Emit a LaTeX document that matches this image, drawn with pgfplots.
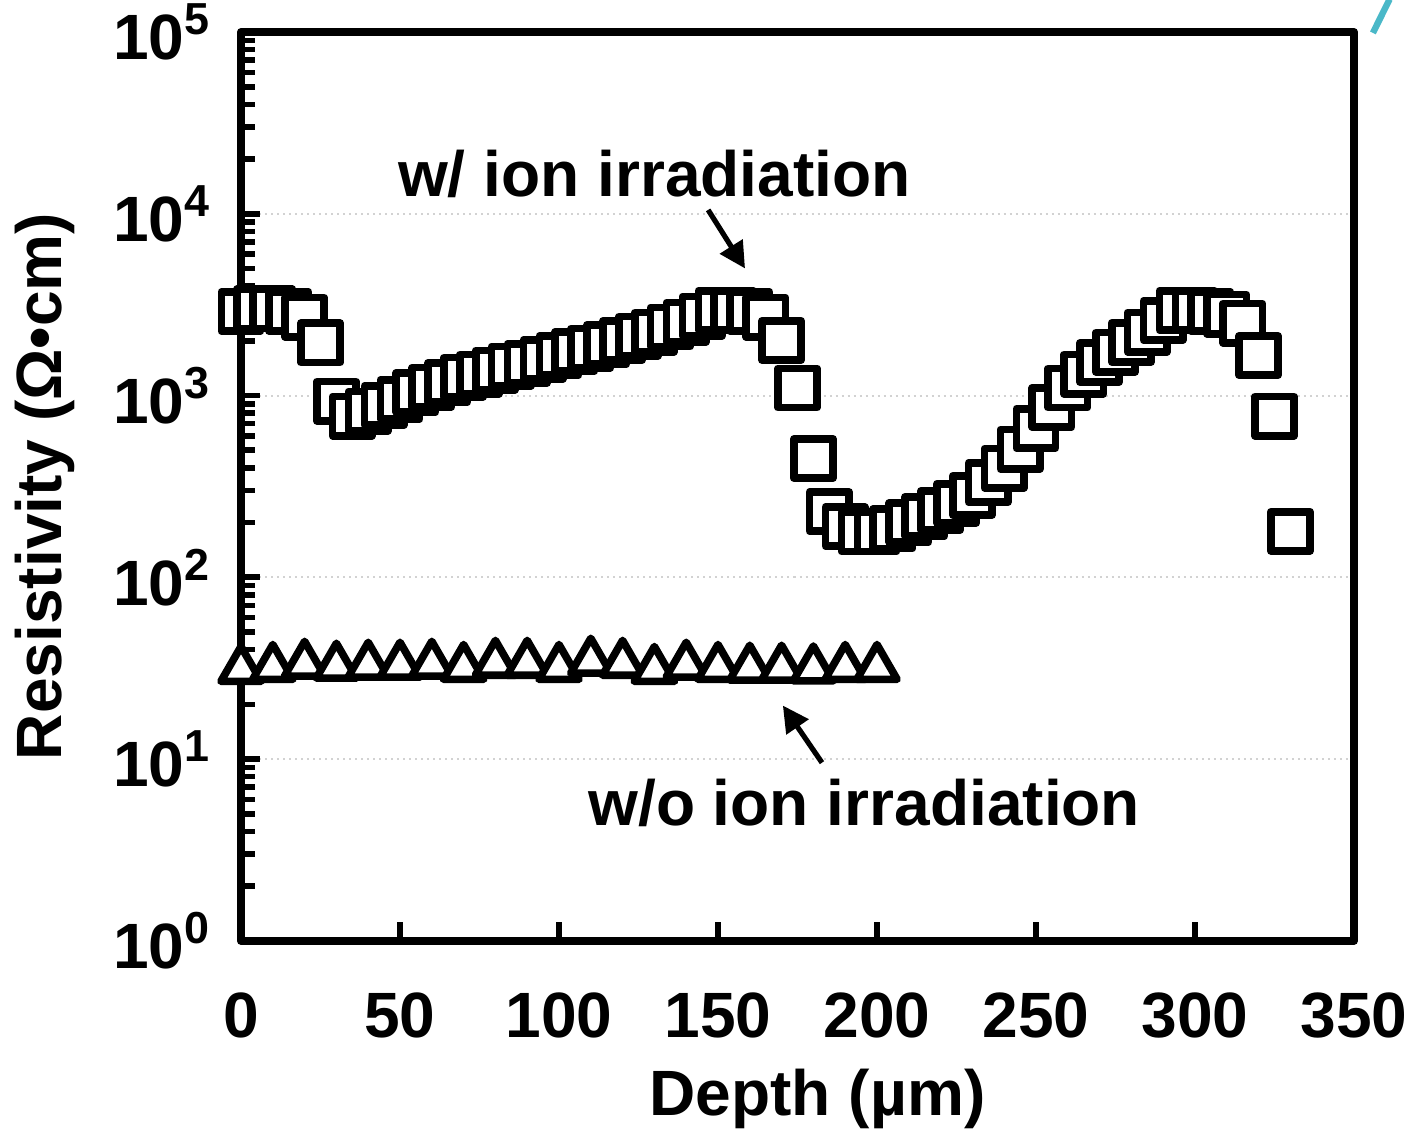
\documentclass[border=0pt]{standalone}
\usepackage{fontspec}
\setmainfont{Liberation Sans}
\usepackage{pgfplots}
\pgfplotsset{compat=1.18}
\usetikzlibrary{arrows.meta}

\begin{document}
\begin{tikzpicture}
\begin{axis}[
  name=ax,
  scale only axis, width=278pt, height=227pt,
  xmin=0, xmax=350, ymode=log, ymin=1, ymax=1e5,
  xtick={0,50,...,350},
  ytick={1,10,100,1000,10000,100000},
  yticklabels={10\textsuperscript{0},10\textsuperscript{1},10\textsuperscript{2},10\textsuperscript{3},10\textsuperscript{4},10\textsuperscript{5}},
  /pgf/number format/assume math mode=true,
  axis line style={line width=2pt, line join=round},
  tick style={line width=1.4pt, black},
  major tick length=4.75pt, minor tick length=3.5pt,
  tick align=inside, xtick pos=bottom, ytick pos=left,
  ymajorgrids, major grid style={gray!35, line width=0.5pt, densely dotted},
  ticklabel style={font=\bfseries\fontsize{16}{18}\selectfont, inner sep=0pt},
  xticklabel style={yshift=-12.8pt},
  yticklabel style={xshift=-7.2pt},
  label style={font=\bfseries\fontsize{16}{18}\selectfont, inner sep=0pt},
  xlabel={Depth (µm)}, ylabel={Resistivity (Ω•cm)},
  xlabel style={at={(axis description cs:0.518,-0.174)}, anchor=center},
  ylabel style={at={(axis description cs:-0.176,0.5)}, anchor=center},
  clip=false,
]
% w/ ion irradiation
\addplot[only marks, mark=square*, mark size=4.9pt, line width=1.9pt, line join=round,
  mark options={draw=black, fill=white}] coordinates {
(0,2900) (5,3000) (10,3000) (15,2900) (20,2700) (25,1950) (30,930) (35,770)
(40,820) (45,880) (50,950) (55,1040) (60,1110) (65,1180) (70,1260) (75,1310)
(80,1380) (85,1450) (90,1500) (95,1580) (100,1660) (105,1750) (110,1820) (115,1910)
(120,2010) (125,2120) (130,2230) (135,2380) (140,2530) (145,2730) (150,2940) (155,2940)
(160,2900) (165,2700) (170,2010) (175,1100) (180,450) (185,230) (190,190) (195,178)
(200,178) (205,185) (210,200) (215,216) (220,233) (225,255) (230,282) (235,332)
(240,398) (245,506) (250,660) (255,860) (260,1100) (265,1310) (270,1520) (275,1730)
(280,1960) (285,2230) (290,2590) (295,2940) (300,2940) (305,2900) (310,2800) (315,2500)
(320,1660) (325,770) (330,179)
};
% w/o ion irradiation
\addplot[only marks, mark=triangle*, mark size=5.8pt, line width=1.9pt, line join=round,
  mark options={draw=black, fill=white}] coordinates {
(0,31.0) (10,31.8) (20,33.1) (30,32.3) (40,32.7) (50,32.7) (60,33.1) (70,31.8)
(80,33.5) (90,33.5) (100,31.8) (110,34.4) (120,33.5) (130,31.0) (140,32.7) (150,31.8)
(160,31.5) (170,31.5) (180,31.2) (190,31.8) (200,31.8)
};
\node[font=\bfseries\fontsize{16}{18}\selectfont] at (axis cs:130,1.65e4) {w/ ion irradiation};
\draw[line width=1.3pt, -{Triangle[length=6.5pt,width=6.5pt]}] (axis cs:146.9,1.05e4) -- (axis cs:158.5,5000);
\node[font=\bfseries\fontsize{16}{18}\selectfont] at (axis cs:196,5.7) {w/o ion irradiation};
\draw[line width=1.3pt, -{Triangle[length=6.5pt,width=6.5pt]}] (axis cs:182.7,9.55) -- (axis cs:170.4,19.7);
\draw[line width=1.6pt, color={rgb,255:red,74;green,184;blue,200}]
  (rel axis cs:1.017,0.999) -- (rel axis cs:1.032,1.036);
\end{axis}
\pgfresetboundingbox
\path[use as bounding box] ([shift={(-60.2pt,-47.5pt)}]ax.south west) rectangle ([shift={(13.5pt,8pt)}]ax.north east);
\end{tikzpicture}
\end{document}
